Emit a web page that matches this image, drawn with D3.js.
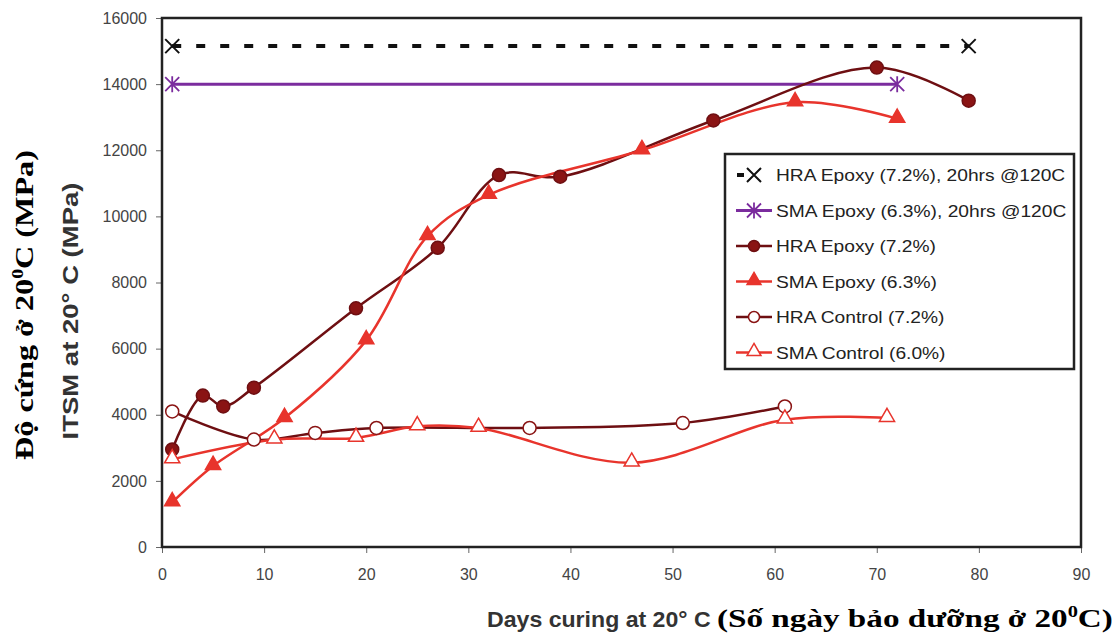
<!DOCTYPE html>
<html>
<head>
<meta charset="utf-8">
<title>ITSM vs curing days</title>
<style>
  html, body { margin:0; padding:0; background:#fff; }
  svg { display:block; }
  .tick text { font-family: Arial, "Liberation Sans", sans-serif; font-size:16px; fill:#444; }
</style>
<script src="https://d3js.org/d3.v7.min.js"></script>
</head>
<body>
<svg id="chart"></svg>
<script>
// series data
var xTicks = [0,10,20,30,40,50,60,70,80,90];
var yTicks = [0,2000,4000,6000,8000,10000,12000,14000,16000];

var hraCuredDays = [1, 79];
var hraCuredVals = [15150, 15150];
var smaCuredDays = [1, 72];
var smaCuredVals = [14000, 14000];

var hraEpoxyDays = [1, 4, 6, 9, 19, 27, 33, 39, 54, 70, 79];
var hraEpoxyVals = [2950, 4580, 4250, 4820, 7220, 9050, 11250, 11200, 12900, 14500, 13500];

var smaEpoxyDays = [1, 5, 12, 20, 26, 32, 47, 62, 72];
var smaEpoxyVals = [1350, 2450, 3900, 6250, 9400, 10650, 12000, 13450, 12950];

var hraCtrlDays = [1, 9, 15, 21, 36, 51, 61];
var hraCtrlVals = [4100, 3250, 3450, 3600, 3600, 3750, 4250];

var smaCtrlDays = [1, 11, 19, 25, 31, 46, 61, 71];
var smaCtrlVals = [2650, 3250, 3300, 3650, 3600, 2550, 3850, 3900];

var seriesNames = ["HRA Epoxy (7.2%), 20hrs @120C", "SMA Epoxy (6.3%), 20hrs @120C",
  "HRA Epoxy (7.2%)", "SMA Epoxy (6.3%)", "HRA Control (7.2%)", "SMA Control (6.0%)"];

var W = 1119, H = 634;
var mL = 162, mR = 1081, mT = 18, mB = 547;

var svg = d3.select("#chart").attr("width", W).attr("height", H);

var x = d3.scaleLinear().domain([0, 90]).range([mL, mR]);
var y = d3.scaleLinear().domain([0, 16000]).range([mB, mT]);

function zip(a, b) { return a.map(function(d, i) { return [d, b[i]]; }); }

var series = [
  {name: seriesNames[0], pts: zip(hraCuredDays, hraCuredVals), color:"#111", width:4, dash:"9,15", marker:"x", smooth:false},
  {name: seriesNames[1], pts: zip(smaCuredDays, smaCuredVals), color:"#7b2c9e", width:3, dash:null, marker:"star", smooth:false},
  {name: seriesNames[2], pts: zip(hraEpoxyDays, hraEpoxyVals), color:"#6e0f12", width:2.5, dash:null, marker:"circle", fill:"#8a1414", smooth:true},
  {name: seriesNames[3], pts: zip(smaEpoxyDays, smaEpoxyVals), color:"#e8342c", width:2.5, dash:null, marker:"tri", fill:"#e8342c", smooth:true},
  {name: seriesNames[4], pts: zip(hraCtrlDays, hraCtrlVals), color:"#6e0f12", width:2.5, dash:null, marker:"circle", fill:"#fff", mstroke:"#8a1414", smooth:true},
  {name: seriesNames[5], pts: zip(smaCtrlDays, smaCtrlVals), color:"#e8342c", width:2.5, dash:null, marker:"tri", fill:"#fff", mstroke:"#e8342c", smooth:true}
];

// axes
var yAxis = d3.axisLeft(y).tickValues(yTicks).tickSize(6).tickPadding(9).tickFormat(d3.format("d"));
var gy = svg.append("g").attr("transform", "translate(" + mL + ",0)").call(yAxis);
gy.select(".domain").remove();
gy.selectAll(".tick line").attr("stroke", "#666");

var xAxis = d3.axisBottom(x).tickValues(xTicks).tickSize(6).tickPadding(16);
var gx = svg.append("g").attr("transform", "translate(0," + mB + ")").call(xAxis);
gx.select(".domain").remove();
gx.selectAll(".tick line").attr("stroke", "#666");

// plot frame
svg.append("rect")
  .attr("x", mL).attr("y", mT)
  .attr("width", mR - mL).attr("height", mB - mT)
  .attr("fill", "none").attr("stroke", "#222").attr("stroke-width", 2.5);

function drawMarker(g, type, s, cx, cy, size) {
  var r = 7;
  if (type == "x") {
    g.append("path").attr("d", "M" + (cx-r) + "," + (cy-r) + "L" + (cx+r) + "," + (cy+r) + "M" + (cx-r) + "," + (cy+r) + "L" + (cx+r) + "," + (cy-r))
      .attr("stroke", "#111").attr("stroke-width", 2).attr("fill", "none");
  } else if (type == "star") {
    g.append("path").attr("d", "M" + (cx-r) + "," + (cy-r) + "L" + (cx+r) + "," + (cy+r) + "M" + (cx-r) + "," + (cy+r) + "L" + (cx+r) + "," + (cy-r) + "M" + cx + "," + (cy-r-1) + "L" + cx + "," + (cy+r+1))
      .attr("stroke", s.color).attr("stroke-width", 1.8).attr("fill", "none");
  } else if (type == "circle") {
    g.append("circle").attr("cx", cx).attr("cy", cy).attr("r", size || 6.5)
      .attr("fill", s.fill).attr("stroke", s.mstroke || "#6e0f12").attr("stroke-width", 1.5);
  } else if (type == "tri") {
    var sym = d3.symbol().type(d3.symbolTriangle).size(size ? size * 14 : 100);
    g.append("path").attr("d", sym()).attr("transform", "translate(" + cx + "," + (cy - 1) + ")")
      .attr("fill", s.fill).attr("stroke", s.mstroke || s.fill).attr("stroke-width", 1.5);
  }
}

var plot = svg.append("g");
series.forEach(function(s) {
  var line = d3.line()
    .x(function(d) { return x(d[0]); })
    .y(function(d) { return y(d[1]); })
    .curve(s.smooth ? d3.curveCatmullRom.alpha(0.5) : d3.curveLinear);
  plot.append("path").datum(s.pts).attr("d", line)
    .attr("fill", "none").attr("stroke", s.color).attr("stroke-width", s.width)
    .attr("stroke-dasharray", s.dash);
});
series.forEach(function(s) {
  s.pts.forEach(function(p) { drawMarker(plot, s.marker, s, x(p[0]), y(p[1])); });
});

// legend
var lg = svg.append("g");
lg.append("rect").attr("x", 725).attr("y", 154).attr("width", 349).attr("height", 215)
  .attr("fill", "#fff").attr("stroke", "#222").attr("stroke-width", 2.5);
series.forEach(function(s, i) {
  var ly = 175 + i * 35.5;
  if (s.dash) {
    lg.append("line").attr("x1", 737).attr("x2", 744).attr("y1", ly).attr("y2", ly)
      .attr("stroke", s.color).attr("stroke-width", 4);
  } else {
    lg.append("line").attr("x1", 736).attr("x2", 772).attr("y1", ly).attr("y2", ly)
      .attr("stroke", s.color).attr("stroke-width", s.width);
  }
  drawMarker(lg, s.marker, s, 754, ly, s.marker == "circle" ? 5.5 : 6);
  lg.append("text").attr("x", 0).attr("y", 0)
    .attr("transform", "translate(776," + (ly + 6) + ") scale(1.2,1)")
    .attr("font-family", "Arial, 'Liberation Sans', sans-serif").attr("font-size", 16)
    .attr("fill", "#222").text(s.name);
});

// fit a text element between two points along its own direction
function fitText(node, len) {
  var w = node.getBBox().width;
  return len / w;
}

// axis titles
var yt1 = svg.append("g");
var t1 = yt1.append("text")
  .attr("text-anchor", "middle")
  .attr("font-family", "Arial, 'Liberation Sans', sans-serif").attr("font-weight", "bold")
  .attr("font-size", 22).attr("fill", "#333")
  .text("ITSM at 20° C (MPa)");
yt1.attr("transform", "translate(78,311) rotate(-90) scale(" + fitText(t1.node(), 257) + ",1)");

var yt2 = svg.append("g");
var vt = yt2.append("text")
  .attr("text-anchor", "middle")
  .attr("font-family", "'Liberation Serif', 'Times New Roman', serif").attr("font-weight", "bold")
  .attr("font-size", 26).attr("fill", "#000");
vt.append("tspan").text("Độ cứng ở 20");
vt.append("tspan").attr("font-size", 16).attr("dy", -10).text("0");
vt.append("tspan").attr("dy", 10).text("C (MPa)");
yt2.attr("transform", "translate(33,305) rotate(-90) scale(" + fitText(vt.node(), 310) + ",1)");

var xg1 = svg.append("g");
var xt = xg1.append("text")
  .attr("font-family", "Arial, 'Liberation Sans', sans-serif").attr("font-weight", "bold")
  .attr("font-size", 22).attr("fill", "#333")
  .text("Days curing at 20° C");
xg1.attr("transform", "translate(487,627) scale(" + fitText(xt.node(), 224) + ",1)");

var xg2 = svg.append("g");
var xs = xg2.append("text")
  .attr("font-family", "'Liberation Serif', 'Times New Roman', serif").attr("font-weight", "bold")
  .attr("font-size", 26).attr("fill", "#000");
xs.append("tspan").text("(Số ngày bảo dưỡng ở 20");
xs.append("tspan").attr("font-size", 16).attr("dy", -10).text("0");
xs.append("tspan").attr("dy", 10).text("C)");
xg2.attr("transform", "translate(717,627) scale(" + fitText(xs.node(), 396) + ",1)");
</script>
</body>
</html>
